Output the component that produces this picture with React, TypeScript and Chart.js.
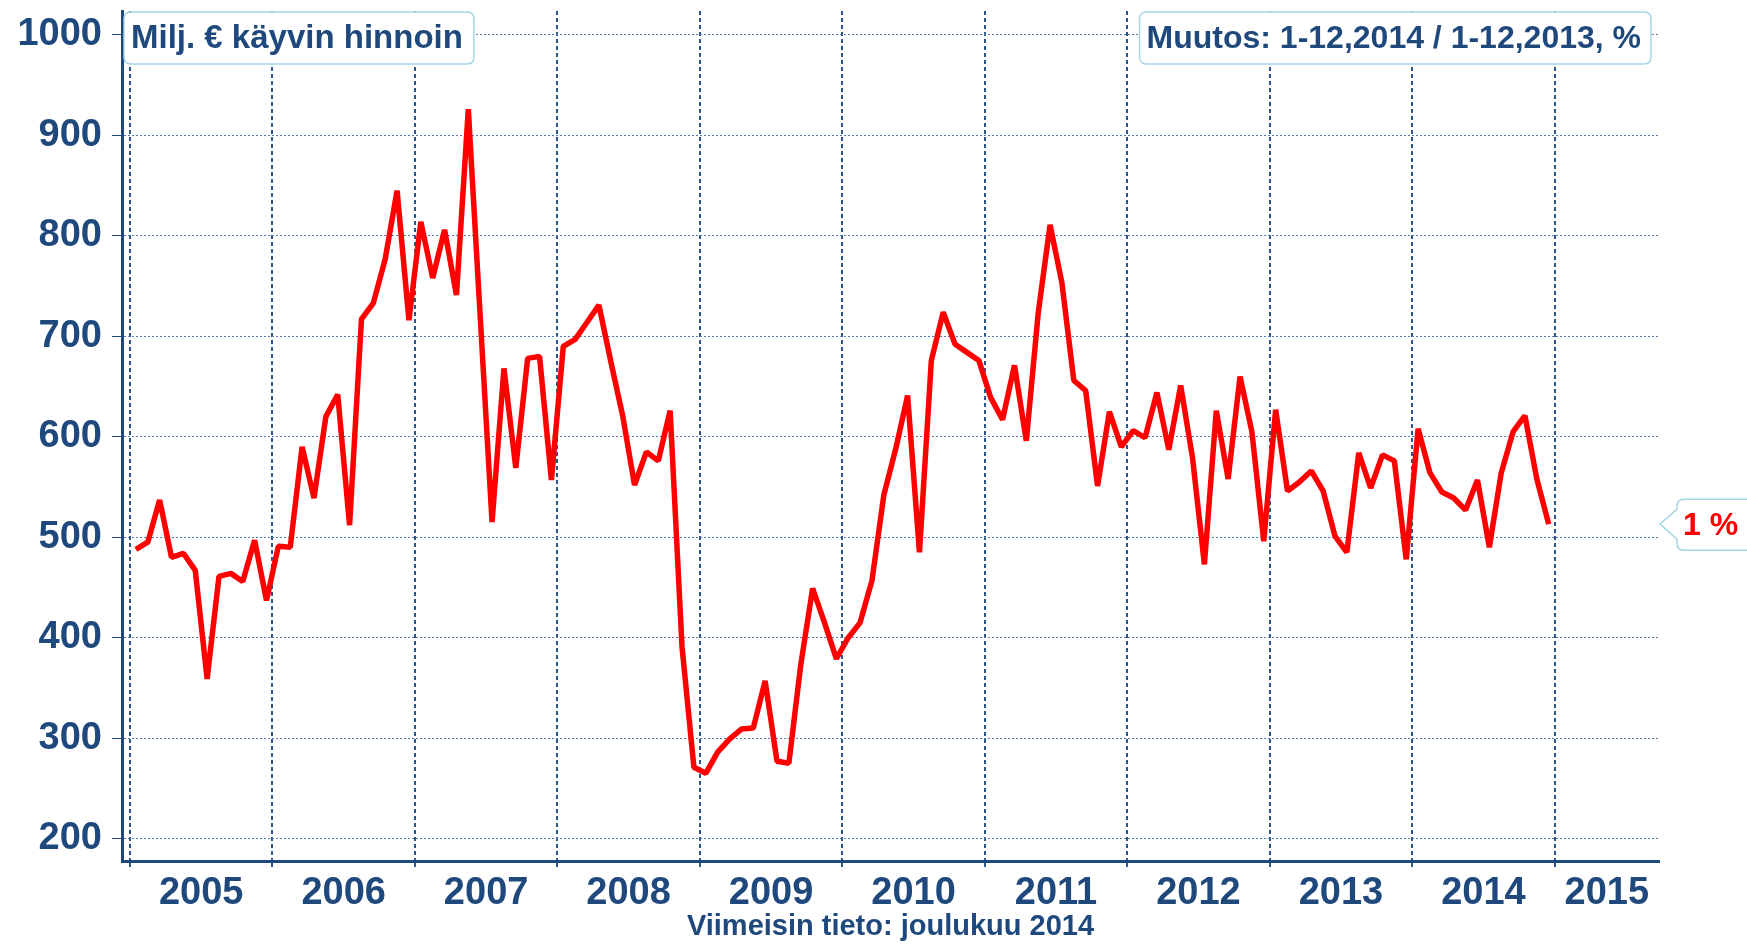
import React, { useEffect, useRef } from "react";
import { Chart, registerables } from "chart.js";

Chart.register(...registerables);

// ---- data (monthly, Jan 2005 .. Dec 2014), milj. € ----
const v2005 = [488, 495, 537, 480, 484, 467, 359, 461, 464, 456, 497, 437];
const v2006 = [491, 490, 590, 539, 620, 642, 512, 717, 733, 777, 845, 716];
const v2007 = [814, 758, 806, 741, 926, 720, 515, 668, 569, 678, 680, 557];
const v2008 = [690, 697, 714, 731, 675, 621, 552, 585, 576, 626, 391, 271];
const v2009 = [265, 286, 299, 309, 310, 357, 277, 275, 373, 449, 415, 379];
const v2010 = [400, 415, 457, 542, 588, 641, 485, 676, 724, 692, 684, 676];
const v2011 = [639, 617, 671, 596, 723, 811, 753, 656, 646, 551, 625, 590];
const v2012 = [606, 599, 644, 587, 651, 579, 473, 626, 558, 660, 605, 496];
const v2013 = [627, 546, 555, 566, 546, 501, 485, 584, 549, 582, 576, 478];
const v2014 = [608, 564, 545, 539, 527, 557, 490, 564, 605, 621, 558, 513];

const yearLabels = ["2005", "2006", "2007", "2008", "2009", "2010", "2011", "2012", "2013", "2014", "2015"];
const yTickValues = [200, 300, 400, 500, 600, 700, 800, 900, 1000];

const leftBoxText = "Milj. € käyvin hinnoin";
const rightBoxText = "Muutos: 1-12,2014 / 1-12,2013, %";
const changeLabel = "1 %";
const xTitle = "Viimeisin tieto: joulukuu 2014";

// ---- styling ----
const navy = "#1f497d";
const hGridColor = "#5b7cab";
const vGridColor = "#2f5590";
const boxBorder = "#a6d6e6";
const FONT = "'Liberation Sans', Arial, Helvetica, sans-serif";

const X_MIN = -0.67;
const X_MAX = 128.79;
const Y_MIN = 177.7;
const Y_MAX = 1023.8;

const allValues = [
  ...v2005, ...v2006, ...v2007, ...v2008, ...v2009,
  ...v2010, ...v2011, ...v2012, ...v2013, ...v2014,
];

const boundaries = yearLabels.map((_, i) => i * 12);
const labelPositions = yearLabels.map((_, i) =>
  i < yearLabels.length - 1 ? i * 12 + 6 : (i * 12 + X_MAX) / 2
);
const labelMap = new Map<number, string>();
labelPositions.forEach((p, i) => labelMap.set(p, yearLabels[i]));
const boundarySet = new Set<number>(boundaries);

function roundRectPath(ctx: CanvasRenderingContext2D, x: number, y: number, w: number, h: number, r: number) {
  ctx.beginPath();
  ctx.moveTo(x + r, y);
  ctx.lineTo(x + w - r, y);
  ctx.quadraticCurveTo(x + w, y, x + w, y + r);
  ctx.lineTo(x + w, y + h - r);
  ctx.quadraticCurveTo(x + w, y + h, x + w - r, y + h);
  ctx.lineTo(x + r, y + h);
  ctx.quadraticCurveTo(x, y + h, x, y + h - r);
  ctx.lineTo(x, y + r);
  ctx.quadraticCurveTo(x, y, x + r, y);
  ctx.closePath();
}

const annotationPlugin = {
  id: "annotations",
  afterDraw(chart: any) {
    const ctx: CanvasRenderingContext2D = chart.ctx;
    const area = chart.chartArea;
    ctx.save();
    ctx.textBaseline = "middle";
    ctx.lineWidth = 1.5;
    const by = 12;
    const bh = 52;

    // left box
    ctx.font = `bold 33px ${FONT}`;
    const lw = ctx.measureText(leftBoxText).width;
    const lx = area.left + 2;
    roundRectPath(ctx, lx, by, lw + 18, bh, 7);
    ctx.fillStyle = "#ffffff";
    ctx.fill();
    ctx.strokeStyle = boxBorder;
    ctx.stroke();
    ctx.fillStyle = navy;
    ctx.textAlign = "left";
    ctx.fillText(leftBoxText, lx + 7, by + bh / 2 + 1);

    // right box
    ctx.font = `bold 32px ${FONT}`;
    const rw = ctx.measureText(rightBoxText).width;
    const rRight = area.right - 8;
    const rx = rRight - rw - 17;
    roundRectPath(ctx, rx, by, rw + 17, bh, 7);
    ctx.fillStyle = "#ffffff";
    ctx.fill();
    ctx.strokeStyle = boxBorder;
    ctx.stroke();
    ctx.fillStyle = navy;
    ctx.fillText(rightBoxText, rx + 7, by + bh / 2 + 1);

    // callout with change percentage at last value
    const yScale = chart.scales.y;
    const ly = yScale.getPixelForValue(allValues[allValues.length - 1]);
    const tipX = area.right + 1;
    const bx = tipX + 17;
    const top = ly - 25;
    const bottom = ly + 26;
    const r = 7;
    const right = chart.width + 20;
    ctx.beginPath();
    ctx.moveTo(tipX, ly);
    ctx.lineTo(bx, ly - 15);
    ctx.lineTo(bx, top + r);
    ctx.quadraticCurveTo(bx, top, bx + r, top);
    ctx.lineTo(right, top);
    ctx.lineTo(right, bottom);
    ctx.lineTo(bx + r, bottom);
    ctx.quadraticCurveTo(bx, bottom, bx, bottom - r);
    ctx.lineTo(bx, ly + 15);
    ctx.closePath();
    ctx.fillStyle = "#ffffff";
    ctx.fill();
    ctx.strokeStyle = boxBorder;
    ctx.stroke();
    ctx.font = `bold 32px ${FONT}`;
    ctx.fillStyle = "#ff0000";
    ctx.fillText(changeLabel, bx + 6, ly + 2);
    ctx.restore();
  },
};

export default function App() {
  const canvasRef = useRef<HTMLCanvasElement | null>(null);

  useEffect(() => {
    document.body.style.margin = "0";
    document.body.style.overflow = "hidden";
    const canvas = canvasRef.current;
    if (!canvas) return;

    const points = allValues.map((v, i) => ({ x: i + 0.5, y: v }));

    const chart = new Chart(canvas, {
      type: "line",
      data: {
        datasets: [
          {
            data: points,
            borderColor: "#ff0000",
            backgroundColor: "#ff0000",
            borderWidth: 5.5,
            borderJoinStyle: "bevel",
            pointRadius: 0,
            tension: 0,
            fill: false,
          },
        ],
      },
      options: {
        animation: false,
        responsive: false,
        devicePixelRatio: 1,
        layout: { padding: { left: 0, right: 88, top: 11, bottom: 0 } },
        plugins: {
          legend: { display: false },
          tooltip: { enabled: false },
          title: { display: false },
        },
        scales: {
          x: {
            type: "linear",
            position: "bottom",
            min: X_MIN,
            max: X_MAX,
            afterBuildTicks: (scale: any) => {
              const all = [...boundaries, ...labelPositions].sort((a, b) => a - b);
              scale.ticks = all.map((v) => ({ value: v }));
            },
            afterFit: (scale: any) => {
              scale.height = 83;
              scale.paddingLeft = 0;
              scale.paddingRight = 0;
            },
            ticks: {
              autoSkip: false,
              maxRotation: 0,
              minRotation: 0,
              padding: 3,
              color: navy,
              font: { family: FONT, size: 38, weight: "bold" },
              callback: (value: any) => labelMap.get(value as number) ?? "",
            },
            grid: {
              color: (c: any) =>
                c.tick && !boundarySet.has(c.tick.value) ? "rgba(0,0,0,0)" : vGridColor,
              tickColor: (c: any) =>
                c.tick && !boundarySet.has(c.tick.value) ? "rgba(0,0,0,0)" : vGridColor,
              lineWidth: 2,
              tickLength: 7,
              tickBorderDash: [4, 3],
              drawOnChartArea: true,
            },
            border: { display: true, color: navy, width: 3, dash: [4, 3] },
            title: {
              display: true,
              text: xTitle,
              color: navy,
              font: { family: FONT, size: 29, weight: "bold" },
              padding: { top: 0, bottom: 0 },
            },
          },
          y: {
            type: "linear",
            position: "left",
            min: Y_MIN,
            max: Y_MAX,
            afterBuildTicks: (scale: any) => {
              scale.ticks = yTickValues.map((v) => ({ value: v }));
            },
            afterFit: (scale: any) => {
              scale.width = 122;
              scale.paddingTop = 0;
              scale.paddingBottom = 0;
            },
            ticks: {
              padding: 10,
              color: navy,
              font: { family: FONT, size: 38, weight: "bold" },
              callback: (value: any) => String(value),
            },
            grid: {
              color: hGridColor,
              lineWidth: 1,
              tickLength: 10,
              tickColor: navy,
              tickBorderDash: [],
            },
            border: { display: true, color: navy, width: 3, dash: [2, 2] },
          },
        },
      } as any,
      plugins: [annotationPlugin],
    });

    return () => chart.destroy();
  }, []);

  return (
    <div style={{ width: 1747, height: 944, position: "relative", background: "#ffffff" }}>
      <canvas ref={canvasRef} width={1747} height={944} style={{ display: "block" }} />
    </div>
  );
}
